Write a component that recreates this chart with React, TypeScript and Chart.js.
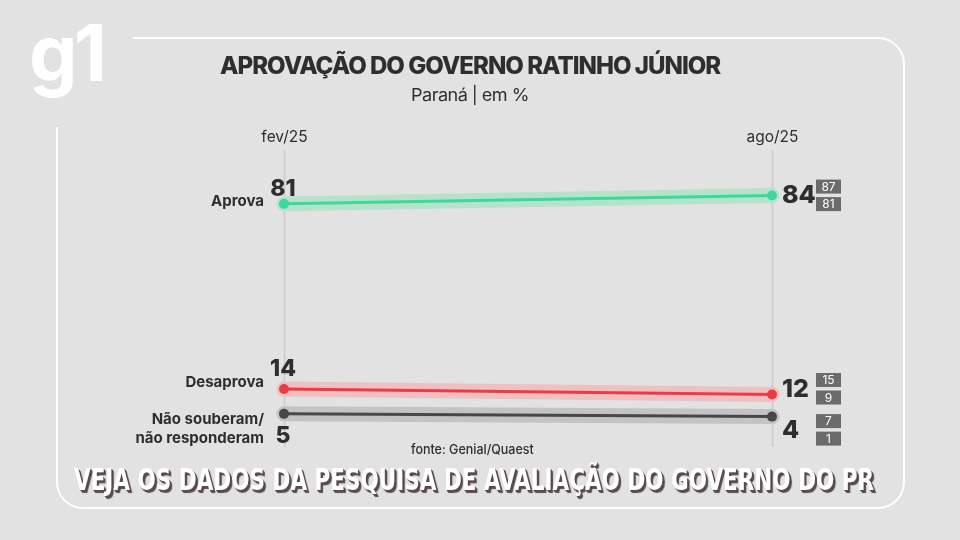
import React, { useEffect, useLayoutEffect, useRef } from 'react';
import { Chart, registerables } from 'chart.js';

Chart.register(...registerables);

const periods = ['fev/25', 'ago/25'];
const categories = ['Aprova', 'Desaprova', 'Não souberam/\nnão responderam'];
const aprova = [81, 84];
const desaprova = [14, 12];
const naoSouberam = [5, 4];
const aprovaRange = [87, 81];
const desaprovaRange = [15, 9];
const naoSouberamRange = [7, 1];

const seriesValues = [aprova, desaprova, naoSouberam];
const seriesRanges = [aprovaRange, desaprovaRange, naoSouberamRange];
const lineColors = ['#3dd89c', '#ee3a45', '#474747'];
const bandColors = ['#b4e3ca', '#efc0c2', '#c3c3c3'];

// label offsets (style only)
const leftLabelDy = [-15, -20, 22];
const rightLabelDy = [0, -5.5, 13.5];
const catLabelDy = [[-2], [-6], [6, 25]];

const BG = '#e2e2e2';
const TEXT = '#2e2e2e';

const decorPlugin = {
  id: 'decor',
  beforeDraw(chart: any) {
    const { ctx, chartArea, scales } = chart;
    const x = scales.x;
    ctx.save();
    ctx.fillStyle = BG;
    ctx.fillRect(0, 0, chart.width, chart.height);
    // frame
    const L = 57, T = 38, R = 904, B = 508, r = 26;
    ctx.strokeStyle = '#ffffff';
    ctx.lineWidth = 2;
    ctx.beginPath();
    ctx.moveTo(133, T);
    ctx.lineTo(R - r, T);
    ctx.arcTo(R, T, R, T + r, r);
    ctx.lineTo(R, B - r);
    ctx.arcTo(R, B, R - r, B, r);
    ctx.lineTo(L + r, B);
    ctx.arcTo(L, B, L, B - r, r);
    ctx.lineTo(L, 127);
    ctx.stroke();
    // vertical grid + period labels
    periods.forEach((p, i) => {
      const px = Math.round(x.getPixelForValue(i)) + 0.5;
      ctx.strokeStyle = '#cacaca';
      ctx.lineWidth = 1.5;
      ctx.beginPath();
      ctx.moveTo(px, chartArea.top);
      ctx.lineTo(px, chartArea.bottom);
      ctx.stroke();
      ctx.fillStyle = TEXT;
      ctx.font = '400 15.5px Inter, "Noto Sans", sans-serif';
      ctx.textAlign = 'center';
      ctx.textBaseline = 'middle';
      ctx.fillText(p, px, chartArea.top - 13);
    });
    ctx.restore();
  },
  afterDatasetsDraw(chart: any) {
    const { ctx, scales } = chart;
    const x = scales.x;
    const y = scales.y;
    ctx.save();
    ctx.textBaseline = 'middle';
    seriesValues.forEach((vals, s) => {
      const x0 = x.getPixelForValue(0);
      const x1 = x.getPixelForValue(1);
      const y0 = y.getPixelForValue(vals[0]);
      const y1 = y.getPixelForValue(vals[1]);
      // category label
      const lines = categories[s].split('\n');
      ctx.fillStyle = TEXT;
      ctx.font = '700 15px Inter, "Noto Sans", sans-serif';
      ctx.textAlign = 'right';
      lines.forEach((ln, k) => {
        ctx.fillText(ln, x0 - 20, y0 + catLabelDy[s][k]);
      });
      // left value
      ctx.font = '800 23px Inter, "Noto Sans", sans-serif';
      ctx.textAlign = 'center';
      ctx.fillText(String(vals[0]), x0 - 1, y0 + leftLabelDy[s]);
      // right value
      const ly = y1 + rightLabelDy[s];
      ctx.font = '800 25px Inter, "Noto Sans", sans-serif';
      ctx.textAlign = 'left';
      ctx.fillText(String(vals[1]), x1 + 10, ly);
      // range boxes
      const rng = seriesRanges[s];
      const bx = x1 + 44, bw = 25, bh = 14;
      [ly - 16, ly + 1.5].forEach((top, k) => {
        ctx.fillStyle = '#6b6b6b';
        ctx.fillRect(bx, top, bw, bh);
        ctx.fillStyle = '#ffffff';
        ctx.font = '400 12px Inter, "Noto Sans", sans-serif';
        ctx.textAlign = 'center';
        ctx.fillText(String(rng[k]), bx + bw / 2, top + bh / 2 + 0.5);
      });
    });
    ctx.restore();
  },
};

function FitText(props: { text: string; cx: number; top: number; width: number; style: any }) {
  const ref = useRef<HTMLSpanElement>(null);
  useLayoutEffect(() => {
    const el = ref.current;
    if (!el) return;
    el.style.transform = 'none';
    const w = el.offsetWidth;
    if (w > 0) el.style.transform = `scaleX(${props.width / w})`;
  }, [props.text, props.width]);
  return (
    <div style={{ position: 'absolute', left: props.cx - props.width / 2, top: props.top, width: props.width, whiteSpace: 'nowrap' }}>
      <span ref={ref} style={{ display: 'inline-block', transformOrigin: 'left top', whiteSpace: 'nowrap', ...props.style }}>
        {props.text}
      </span>
    </div>
  );
}

export default function App() {
  const canvasRef = useRef<HTMLCanvasElement>(null);

  useEffect(() => {
    const canvas = canvasRef.current;
    if (!canvas) return;
    const datasets: any[] = [];
    seriesValues.forEach((vals, s) => {
      datasets.push({
        data: vals,
        borderColor: bandColors[s],
        borderWidth: 15,
        borderCapStyle: 'round',
        pointRadius: 0,
        order: 2,
        clip: false,
      });
      datasets.push({
        data: vals,
        borderColor: lineColors[s],
        backgroundColor: lineColors[s],
        borderWidth: 3,
        pointRadius: 5,
        pointBorderWidth: 0,
        pointBackgroundColor: lineColors[s],
        order: 1,
        clip: false,
      });
    });
    const chart = new Chart(canvas, {
      type: 'line',
      data: { labels: periods, datasets },
      options: {
        animation: false,
        responsive: false,
        devicePixelRatio: 1,
        layout: { padding: { left: 284, right: 188, top: 150, bottom: 93 } },
        plugins: { legend: { display: false }, tooltip: { enabled: false }, title: { display: false } },
        scales: {
          x: { type: 'category', display: false, offset: false },
          y: { type: 'linear', display: false, min: -7, max: 100.5 },
        },
      },
      plugins: [decorPlugin],
    });
    return () => chart.destroy();
  }, []);

  return (
    <div style={{ position: 'fixed', left: 0, top: 0, width: 960, height: 540, background: BG, overflow: 'hidden', fontFamily: 'Inter, "Noto Sans", sans-serif' }}>
      <canvas ref={canvasRef} width={960} height={540} style={{ position: 'absolute', left: 0, top: 0, width: 960, height: 540 }} />
      <FitText text="g1" cx={66} top={14} width={74}
        style={{ fontFamily: 'Inter, Roboto, sans-serif', fontWeight: 700, fontSize: 78, color: '#ffffff', letterSpacing: -4, lineHeight: '78px' }} />
      <FitText text="APROVAÇÃO DO GOVERNO RATINHO JÚNIOR" cx={470} top={52} width={500}
        style={{ fontFamily: 'Inter, sans-serif', fontWeight: 800, fontSize: 24, color: TEXT, letterSpacing: -1, lineHeight: '28px' }} />
      <FitText text="Paraná | em %" cx={470} top={84} width={118}
        style={{ fontFamily: 'Inter, sans-serif', fontWeight: 400, fontSize: 17, color: TEXT, letterSpacing: -0.5, lineHeight: '22px' }} />
      <FitText text="fonte: Genial/Quaest" cx={472} top={438} width={123}
        style={{ fontFamily: 'Inter, sans-serif', fontWeight: 500, fontSize: 13, color: TEXT, lineHeight: '18px' }} />
      <FitText text="VEJA OS DADOS DA PESQUISA DE AVALIAÇÃO DO GOVERNO DO PR" cx={474} top={463} width={800}
        style={{ fontFamily: '"DejaVu Sans Condensed", "DejaVu Sans", sans-serif', fontWeight: 700, fontSize: 30, color: '#ffffff', lineHeight: '34px', textShadow: '1px 1px 0 #5b4a52, 2px 2px 0 #5b4a52, 3px 3px 1px #5b4a52' }} />
    </div>
  );
}
